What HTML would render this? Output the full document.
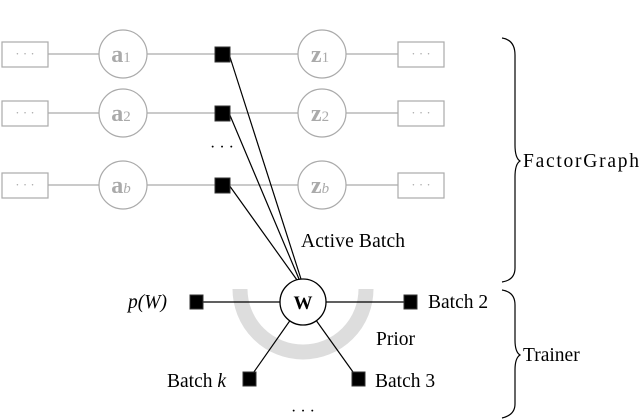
<!DOCTYPE html>
<html><head><style>body{margin:0;background:#fff}svg{display:block}</style></head><body>
<svg width="640" height="419" viewBox="0 0 640 419" xmlns="http://www.w3.org/2000/svg" font-family="Liberation Serif, serif">
<g stroke="#aaa" stroke-width="1.2" fill="#fff">
<line x1="48" y1="54" x2="398" y2="54"/><line x1="48" y1="113" x2="398" y2="113"/><line x1="48" y1="185" x2="398" y2="185"/>
<rect x="2" y="42" width="46" height="25"/><rect x="2" y="101" width="46" height="25"/><rect x="2" y="173" width="46" height="25"/>
<rect x="398" y="42" width="46" height="25"/><rect x="398" y="101" width="46" height="25"/><rect x="398" y="173" width="46" height="25"/>
<ellipse cx="123" cy="54" rx="24" ry="24"/><ellipse cx="123" cy="113" rx="24" ry="24"/><ellipse cx="123" cy="185" rx="24" ry="24"/>
<ellipse cx="322" cy="54" rx="24" ry="24"/><ellipse cx="322" cy="113" rx="24" ry="24"/><ellipse cx="322" cy="185" rx="24" ry="24"/>
</g>
<g fill="#aaa" font-size="13" text-anchor="middle"><text x="25" y="58">· · ·</text><text x="25" y="117">· · ·</text><text x="25" y="189">· · ·</text>
<text x="421" y="58">· · ·</text><text x="421" y="117">· · ·</text><text x="421" y="189">· · ·</text></g>
<g fill="#aaa" font-size="24" font-weight="bold" text-anchor="middle">
<text x="121" y="62">a<tspan font-size="15" font-weight="normal">1</tspan></text><text x="121" y="121">a<tspan font-size="15" font-weight="normal">2</tspan></text><text x="121" y="193">a<tspan font-size="15" font-weight="normal" font-style="italic">b</tspan></text>
<text x="320" y="62">z<tspan font-size="15" font-weight="normal">1</tspan></text><text x="320" y="121">z<tspan font-size="15" font-weight="normal">2</tspan></text><text x="320" y="193">z<tspan font-size="15" font-weight="normal" font-style="italic">b</tspan></text>
</g>
<text x="222" y="152" font-size="16" text-anchor="middle">· · ·</text>
<path d="M240 289 A63 63 0 0 0 366 289" fill="none" stroke="#ddd" stroke-width="15"/>
<g stroke="#000" stroke-width="1.2">
<line x1="229" y1="54" x2="301" y2="279"/><line x1="229" y1="113" x2="299" y2="279"/><line x1="229" y1="185" x2="297" y2="280"/>
<line x1="196" y1="302" x2="410" y2="302"/>
<line x1="249" y1="379" x2="303" y2="302"/><line x1="358" y1="379" x2="303" y2="302"/>
</g>
<g fill="#000" stroke="#333"><rect x="215" y="47" width="15" height="15"/><rect x="215" y="106" width="15" height="15"/><rect x="215" y="178" width="15" height="15"/>
<rect x="190" y="295" width="13" height="14"/><rect x="404" y="295" width="13" height="14"/><rect x="243" y="372" width="13" height="14"/><rect x="352" y="372" width="13" height="14"/></g>
<circle cx="303" cy="302" r="23" fill="#fff" stroke="#000" stroke-width="1.3"/>
<text x="303" y="309" font-size="19" font-weight="bold" text-anchor="middle">W</text>
<g font-size="19.5">
<text x="301" y="247" textLength="104">Active Batch</text>
<text x="128" y="308" font-style="italic">p(W)</text>
<text x="428" y="308">Batch 2</text>
<text x="376" y="345">Prior</text>
<text x="167" y="387">Batch <tspan font-style="italic">k</tspan></text>
<text x="375" y="387">Batch 3</text>
<text x="523" y="167" textLength="116">FactorGraph</text>
<text x="523" y="361">Trainer</text>
</g>
<text x="303" y="416" font-size="16" text-anchor="middle">· · ·</text>
<g fill="none" stroke="#000" stroke-width="1.2">
<path d="M502 38 Q515 40 515 55 L515 145 Q515 158 520 161 Q515 164 515 177 L515 268 Q515 280 502 282"/>
<path d="M502 290 Q515 292 515 305 L515 340 Q515 352 520 355 Q515 358 515 370 L515 404 Q515 415 502 418"/>
</g>
</svg>
</body></html>
